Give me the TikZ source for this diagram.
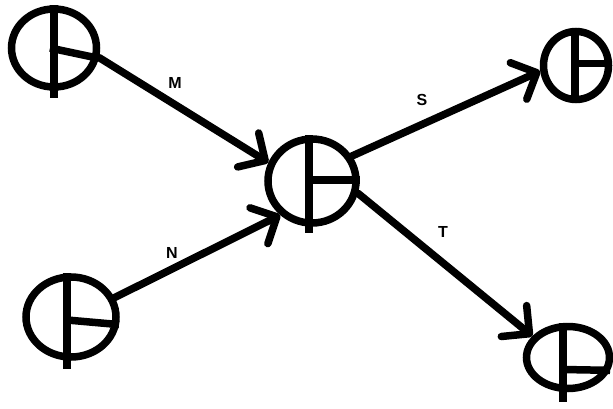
\documentclass[tikz,border=0pt]{standalone}
\usepackage{fontspec}
\setmainfont{Liberation Sans}
\usetikzlibrary{shapes.geometric,arrows.meta}
\begin{document}
\begin{tikzpicture}[x=1pt,y=1pt,
  blob/.style={ellipse,draw,line width=7.5pt,inner sep=0pt},
  crossline/.style={line width=7.5pt},
  conn/.style={line width=7.5pt,line cap=round,-{Straight Barb[length=20pt,width=40pt,round]}},
  lbl/.style={font=\bfseries\fontsize{16}{16}\selectfont}]
\useasboundingbox (0,0) rectangle (613,408);
\node[blob,minimum width=85pt,minimum height=78pt] (A) at (54,360) {};
\node[blob,minimum width=90pt,minimum height=80pt] (B) at (71,91) {};
\node[blob,minimum width=88pt,minimum height=84pt] (C) at (312,227) {};
\node[blob,minimum width=65pt,minimum height=68pt] (D) at (576,342.5) {};
\node[blob,minimum width=83pt,minimum height=62pt] (E) at (568,50.5) {};
% crosses
\draw[crossline] (A.north) -- ([yshift=-7pt]A.south);
\draw[crossline] ([xshift=-4pt]A.center) -- (A.-13);
\draw[crossline] ([xshift=-4pt]B.north) -- ([xshift=-4pt,yshift=-8pt]B.south);
\draw[crossline] ([xshift=-4pt,yshift=-3pt]B.center) -- (B.-9);
\draw[crossline] ([xshift=-3pt]C.north) -- ([xshift=-3pt,yshift=-6pt]C.south);
\draw[crossline] ([xshift=-6pt,yshift=1pt]C.center) -- ([yshift=1pt]C.east);
\draw[crossline] ([xshift=-1pt]D.north) -- ([xshift=-1pt]D.south);
\draw[crossline] ([xshift=-1pt,yshift=2pt]D.center) -- ([yshift=2pt]D.east);
\draw[crossline] ([xshift=-5pt]E.north) -- ([xshift=-5pt,yshift=-10pt]E.south);
\draw[crossline] ([xshift=-5pt,yshift=-12pt]E.center) -- (E.-17);
% connectors
\draw[conn] (A.-12) -- (C.157);
\draw[conn] (B.24) -- (C.227);
\draw[conn] (C.32) -- (D.189);
\draw[conn] (C.-15) -- (E.149);
% labels
\node[lbl] (m) at (175,325) {M};
\node[lbl] (n) at (172,155) {N};
\node[lbl] (s) at (422,308) {S};
\node[lbl] (t) at (443,176) {T};
\end{tikzpicture}
\end{document}
